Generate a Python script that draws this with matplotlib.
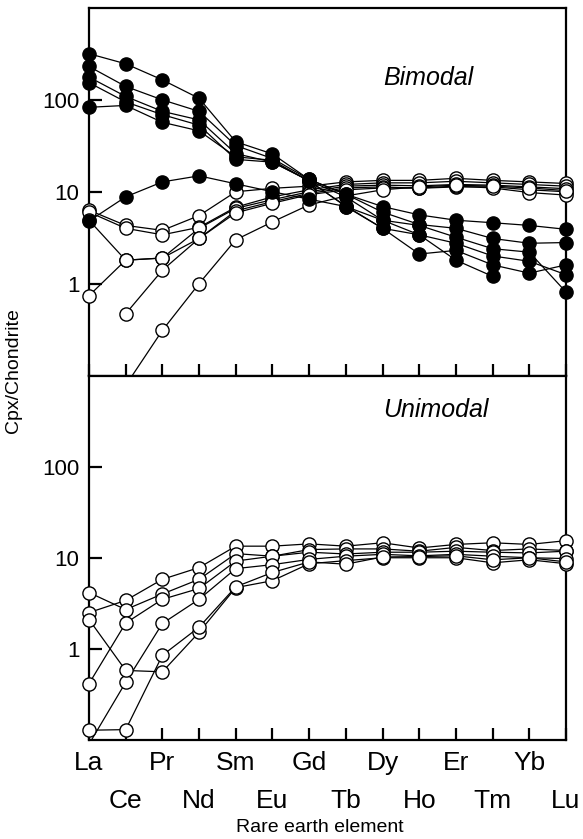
import numpy as np
import matplotlib
matplotlib.use('Agg')
import matplotlib.pyplot as plt
from matplotlib.ticker import FixedLocator, NullLocator, FixedFormatter

nan = np.nan
elements = ['La', 'Ce', 'Pr', 'Nd', 'Sm', 'Eu', 'Gd', 'Tb', 'Dy', 'Ho', 'Er', 'Tm', 'Yb', 'Lu']
ytick_values = [1, 10, 100]
ytick_labels = ['1', '10', '100']

# Bimodal – filled symbols
bim_f1 = [318, 247, 165, 104, 35, 25.8, 13.6, 9.4, 6.9, 5.6, 4.9, 4.6, 4.3, 3.9]
bim_f2 = [231, 140, 100, 75, 31.8, 23, 13.6, 9.4, 6.0, 4.4, 4.0, 3.1, 2.75, 2.8]
bim_f3 = [177, 109, 75, 60.5, 26, 21, 13.2, 8.8, 4.9, 4.3, 3.2, 2.4, 2.2, 0.81]
bim_f4 = [154, 95, 69, 53, 22.5, 21, 13.2, 6.9, 4.0, 3.4, 2.75, 2.0, 1.75, 1.25]
bim_f5 = [83, 87, 57, 46, 24, 22, 13.0, 7.0, 4.0, 2.1, 2.3, 1.6, 1.3, 1.6]
bim_f6 = [4.8, 8.8, 12.8, 14.9, 12.2, 10.0, 8.3, 6.9, 4.9, 3.4, 1.8, 1.2, nan, nan]

# Bimodal – open symbols
bim_o1 = [6.3, 4.3, 3.8, 5.5, 10.0, 10.9, 11.5, 12.8, 13.3, 13.3, 14.0, 13.3, 12.8, 12.3]
bim_o2 = [6.0, 4.0, 3.4, 4.1, 6.8, 8.8, 10.5, 12.0, 12.5, 12.5, 13.0, 12.5, 12.0, 11.5]
bim_o3 = [4.9, 1.8, 1.9, 4.0, 6.6, 8.2, 10.0, 11.5, 11.8, 11.6, 12.0, 11.8, 11.3, 10.8]
bim_o4 = [0.74, 1.8, 1.9, 3.1, 6.2, 7.8, 9.6, 11.0, 11.3, 10.9, 11.3, 11.3, 10.5, 10.0]
bim_o5 = [nan, 0.47, 1.4, 3.1, 5.9, 7.5, 9.3, 10.5, 11.0, 11.0, 11.5, 11.0, 9.8, 9.2]
bim_o6 = [nan, 0.078, 0.31, 1.0, 3.0, 4.7, 7.2, 9.0, 10.5, 11.3, 11.8, 11.5, 11.0, 10.3]

# Unimodal – open symbols
uni_o1 = [2.5, 3.4, 5.8, 7.8, 13.4, 13.4, 14.2, 13.4, 14.6, 12.8, 14.0, 14.6, 14.0, 15.4]
uni_o2 = [4.15, 2.7, 4.0, 5.8, 11.1, 10.4, 12.3, 12.5, 12.5, 11.8, 13.0, 12.0, 12.5, 12.0]
uni_o3 = [0.415, 1.92, 3.5, 4.6, 9.2, 10.4, 11.5, 11.0, 11.5, 11.5, 11.8, 11.5, 11.3, 11.8]
uni_o4 = [0.09, 0.43, 1.9, 3.5, 7.6, 8.4, 9.6, 10.4, 10.9, 10.5, 10.9, 10.4, 10.0, 9.8]
uni_o5 = [2.1, 0.58, 0.56, 1.52, 4.7, 5.6, 8.6, 9.3, 10.0, 10.0, 10.0, 8.8, 9.5, 8.6]
uni_o6 = [0.128, 0.13, 0.85, 1.73, 4.8, 6.9, 9.0, 8.5, 10.2, 10.3, 10.5, 9.5, 10.0, 9.0]

bimodal_filled = [bim_f1, bim_f2, bim_f3, bim_f4, bim_f5, bim_f6]
bimodal_open = [bim_o1, bim_o2, bim_o3, bim_o4, bim_o5, bim_o6]
unimodal_open = [uni_o1, uni_o2, uni_o3, uni_o4, uni_o5, uni_o6]

YLO, YHI = 0.1, 1000
FONT = 'Liberation Sans'
plt.rcParams['font.family'] = [FONT, 'DejaVu Sans']

fig = plt.figure(figsize=(5.83, 8.39), dpi=100)
W, H = 583, 839
left = 89 / W
width = (566 - 89) / W
ymid = 1 - 375.5 / H
ax_top = fig.add_axes([left, ymid, width, (1 - 8 / H) - ymid])
ax_bot = fig.add_axes([left, 1 - 740 / H, width, ymid - (1 - 740 / H)])

x = np.arange(len(elements))


def draw(ax, series, filled, zbase):
    for s in series:
        y = np.array(s, dtype=float)
        ax.plot(x, y, '-', color='black', lw=0.9, zorder=2)
    for s in series:
        y = np.array(s, dtype=float)
        ym = np.where((y >= YLO) & (y <= YHI), y, np.nan)
        ax.plot(x, ym, 'o', ls='none', ms=9.5,
                mfc='black' if filled else 'white', mec='black', mew=1.0,
                clip_on=False, zorder=zbase)


draw(ax_top, bimodal_open, False, 3)
draw(ax_top, bimodal_filled, True, 4)
draw(ax_bot, unimodal_open, False, 3)

for ax in (ax_top, ax_bot):
    ax.set_yscale('log')
    ax.set_ylim(YLO, YHI)
    ax.set_xlim(0, len(elements) - 1)
    ax.yaxis.set_major_locator(FixedLocator(ytick_values))
    ax.yaxis.set_major_formatter(FixedFormatter(ytick_labels))
    ax.yaxis.set_minor_locator(NullLocator())
    ax.set_xticks(x[0::2])
    ax.set_xticks(x[1::2], minor=True)
    for sp in ax.spines.values():
        sp.set_linewidth(1.6)
    ax.tick_params(axis='both', which='both', direction='in', length=9, width=1.6)
    ax.tick_params(axis='y', pad=7, labelsize=16)
    ax.tick_params(axis='x', which='both', labelsize=19)

ax_top.tick_params(axis='x', which='both', labelbottom=False)
ax_bot.set_xticklabels(elements[0::2])
ax_bot.set_xticklabels(elements[1::2], minor=True)
ax_bot.tick_params(axis='x', which='major', pad=8)
ax_bot.tick_params(axis='x', which='minor', pad=35)

ax_top.text(0.616, 0.8095, 'Bimodal', transform=ax_top.transAxes, fontsize=18,
            style='italic', ha='left', va='center')
ax_bot.text(0.616, 0.905, 'Unimodal', transform=ax_bot.transAxes, fontsize=18,
            style='italic', ha='left', va='center')

fig.text(320 / W, 1 - 828 / H, 'Rare earth element', fontsize=14,
         ha='center', va='center')
fig.text(14 / W, 1 - 371 / H, 'Cpx/Chondrite', fontsize=14, rotation=90,
         ha='center', va='center')

fig.savefig('out.png', dpi=100)
